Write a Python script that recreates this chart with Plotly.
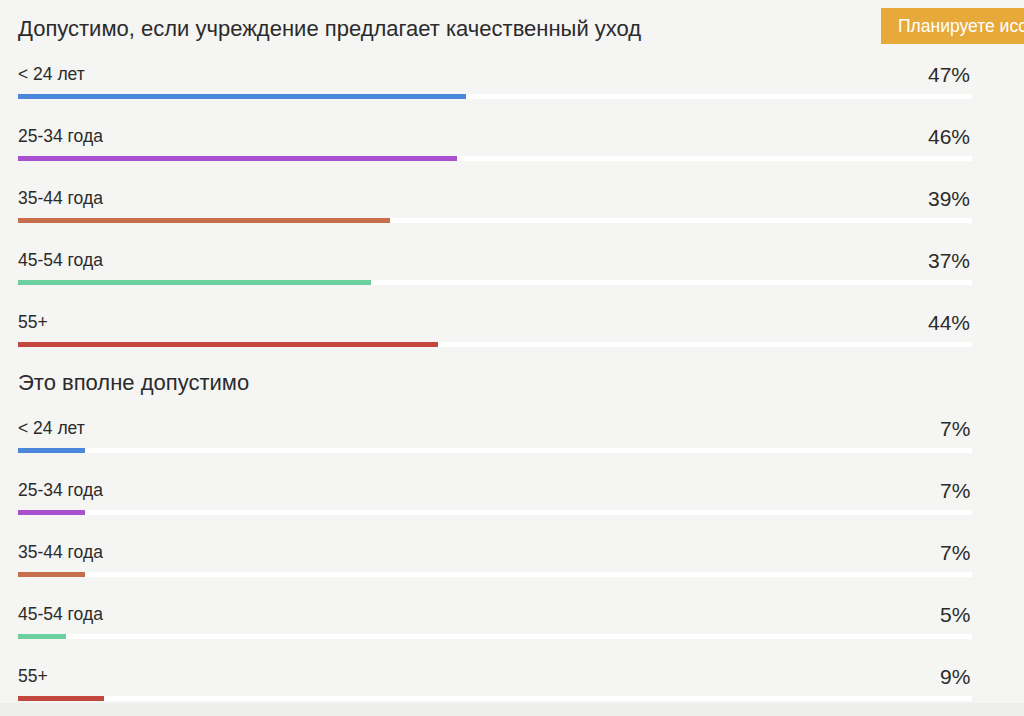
import plotly.graph_objects as go

# data
groups = ["Допустимо, если учреждение предлагает качественный уход", "Это вполне допустимо"]
ages = ["< 24 лет", "25-34 года", "35-44 года", "45-54 года", "55+"]
group1 = [47, 46, 39, 37, 44]
group2 = [7, 7, 7, 5, 9]
colors = ["#4a86d9", "#a94fcf", "#c66f4a", "#6bcf9e", "#c4473f"]

W, H = 1024, 716
bg = "#f5f5f3"
txt = "#2b2b2b"
font = "Liberation Sans, Arial, sans-serif"

fig = go.Figure()
annotations = []
shapes = []

row_gap = 62
for g, (title, vals) in enumerate(zip(groups, [group1, group2])):
    top = 28 + g * 354
    annotations.append(dict(x=0, xref="x", xanchor="left", y=top, yref="y",
                            text=title, showarrow=False, xshift=-2,
                            font=dict(size=22, color=txt, family=font)))
    ys = [top + 68 + i * row_gap for i in range(len(ages))]
    # white track underneath
    fig.add_trace(go.Bar(x=[100] * len(ages), y=ys, orientation="h", width=5,
                         marker=dict(color="white", line_width=0),
                         hoverinfo="skip", showlegend=False))
    fig.add_trace(go.Bar(x=vals, y=ys, orientation="h", width=5,
                         marker=dict(color=colors, line_width=0),
                         hovertemplate="%{x}%<extra></extra>", showlegend=False))
    for i, (lab, v) in enumerate(zip(ages, vals)):
        annotations.append(dict(x=0, xref="x", xanchor="left", y=ys[i] - 22, yref="y",
                                text=lab, showarrow=False, xshift=-2,
                                font=dict(size=17.5, color=txt, family=font)))
        annotations.append(dict(x=100, xref="x", xanchor="right", y=ys[i] - 22, yref="y",
                                text=f"{v}%", showarrow=False,
                                font=dict(size=21, color=txt, family=font)))

# orange button top-right, cut off by the window
shapes.append(dict(type="rect", xref="paper", yref="paper",
                   x0=881 / W, x1=1.02, y0=1 - 44 / H, y1=1 - 8 / H,
                   fillcolor="#e8a93b", line_width=0, layer="below"))
annotations.append(dict(x=896 / W, xref="paper", xanchor="left", y=1 - 26 / H, yref="paper",
                        yanchor="middle", text="Планируете исследование?", showarrow=False,
                        font=dict(size=17.5, color="white", family=font)))
# slightly darker strip at the very bottom
shapes.append(dict(type="rect", xref="paper", yref="paper",
                   x0=0, x1=1, y0=0, y1=13 / H,
                   fillcolor="#eeeeec", line_width=0, layer="below"))

fig.update_layout(
    width=W, height=H,
    margin=dict(l=0, r=0, t=0, b=0),
    paper_bgcolor=bg, plot_bgcolor=bg,
    barmode="overlay", bargap=0,
    xaxis=dict(range=[0, 100], domain=[18 / W, 972 / W], visible=False, fixedrange=True),
    yaxis=dict(range=[H, 0], visible=False, fixedrange=True),
    annotations=annotations, shapes=shapes,
)

fig.write_html("out.html", config={"displayModeBar": False},
               post_script="document.body.style.margin='0';document.body.style.overflow='hidden';")
